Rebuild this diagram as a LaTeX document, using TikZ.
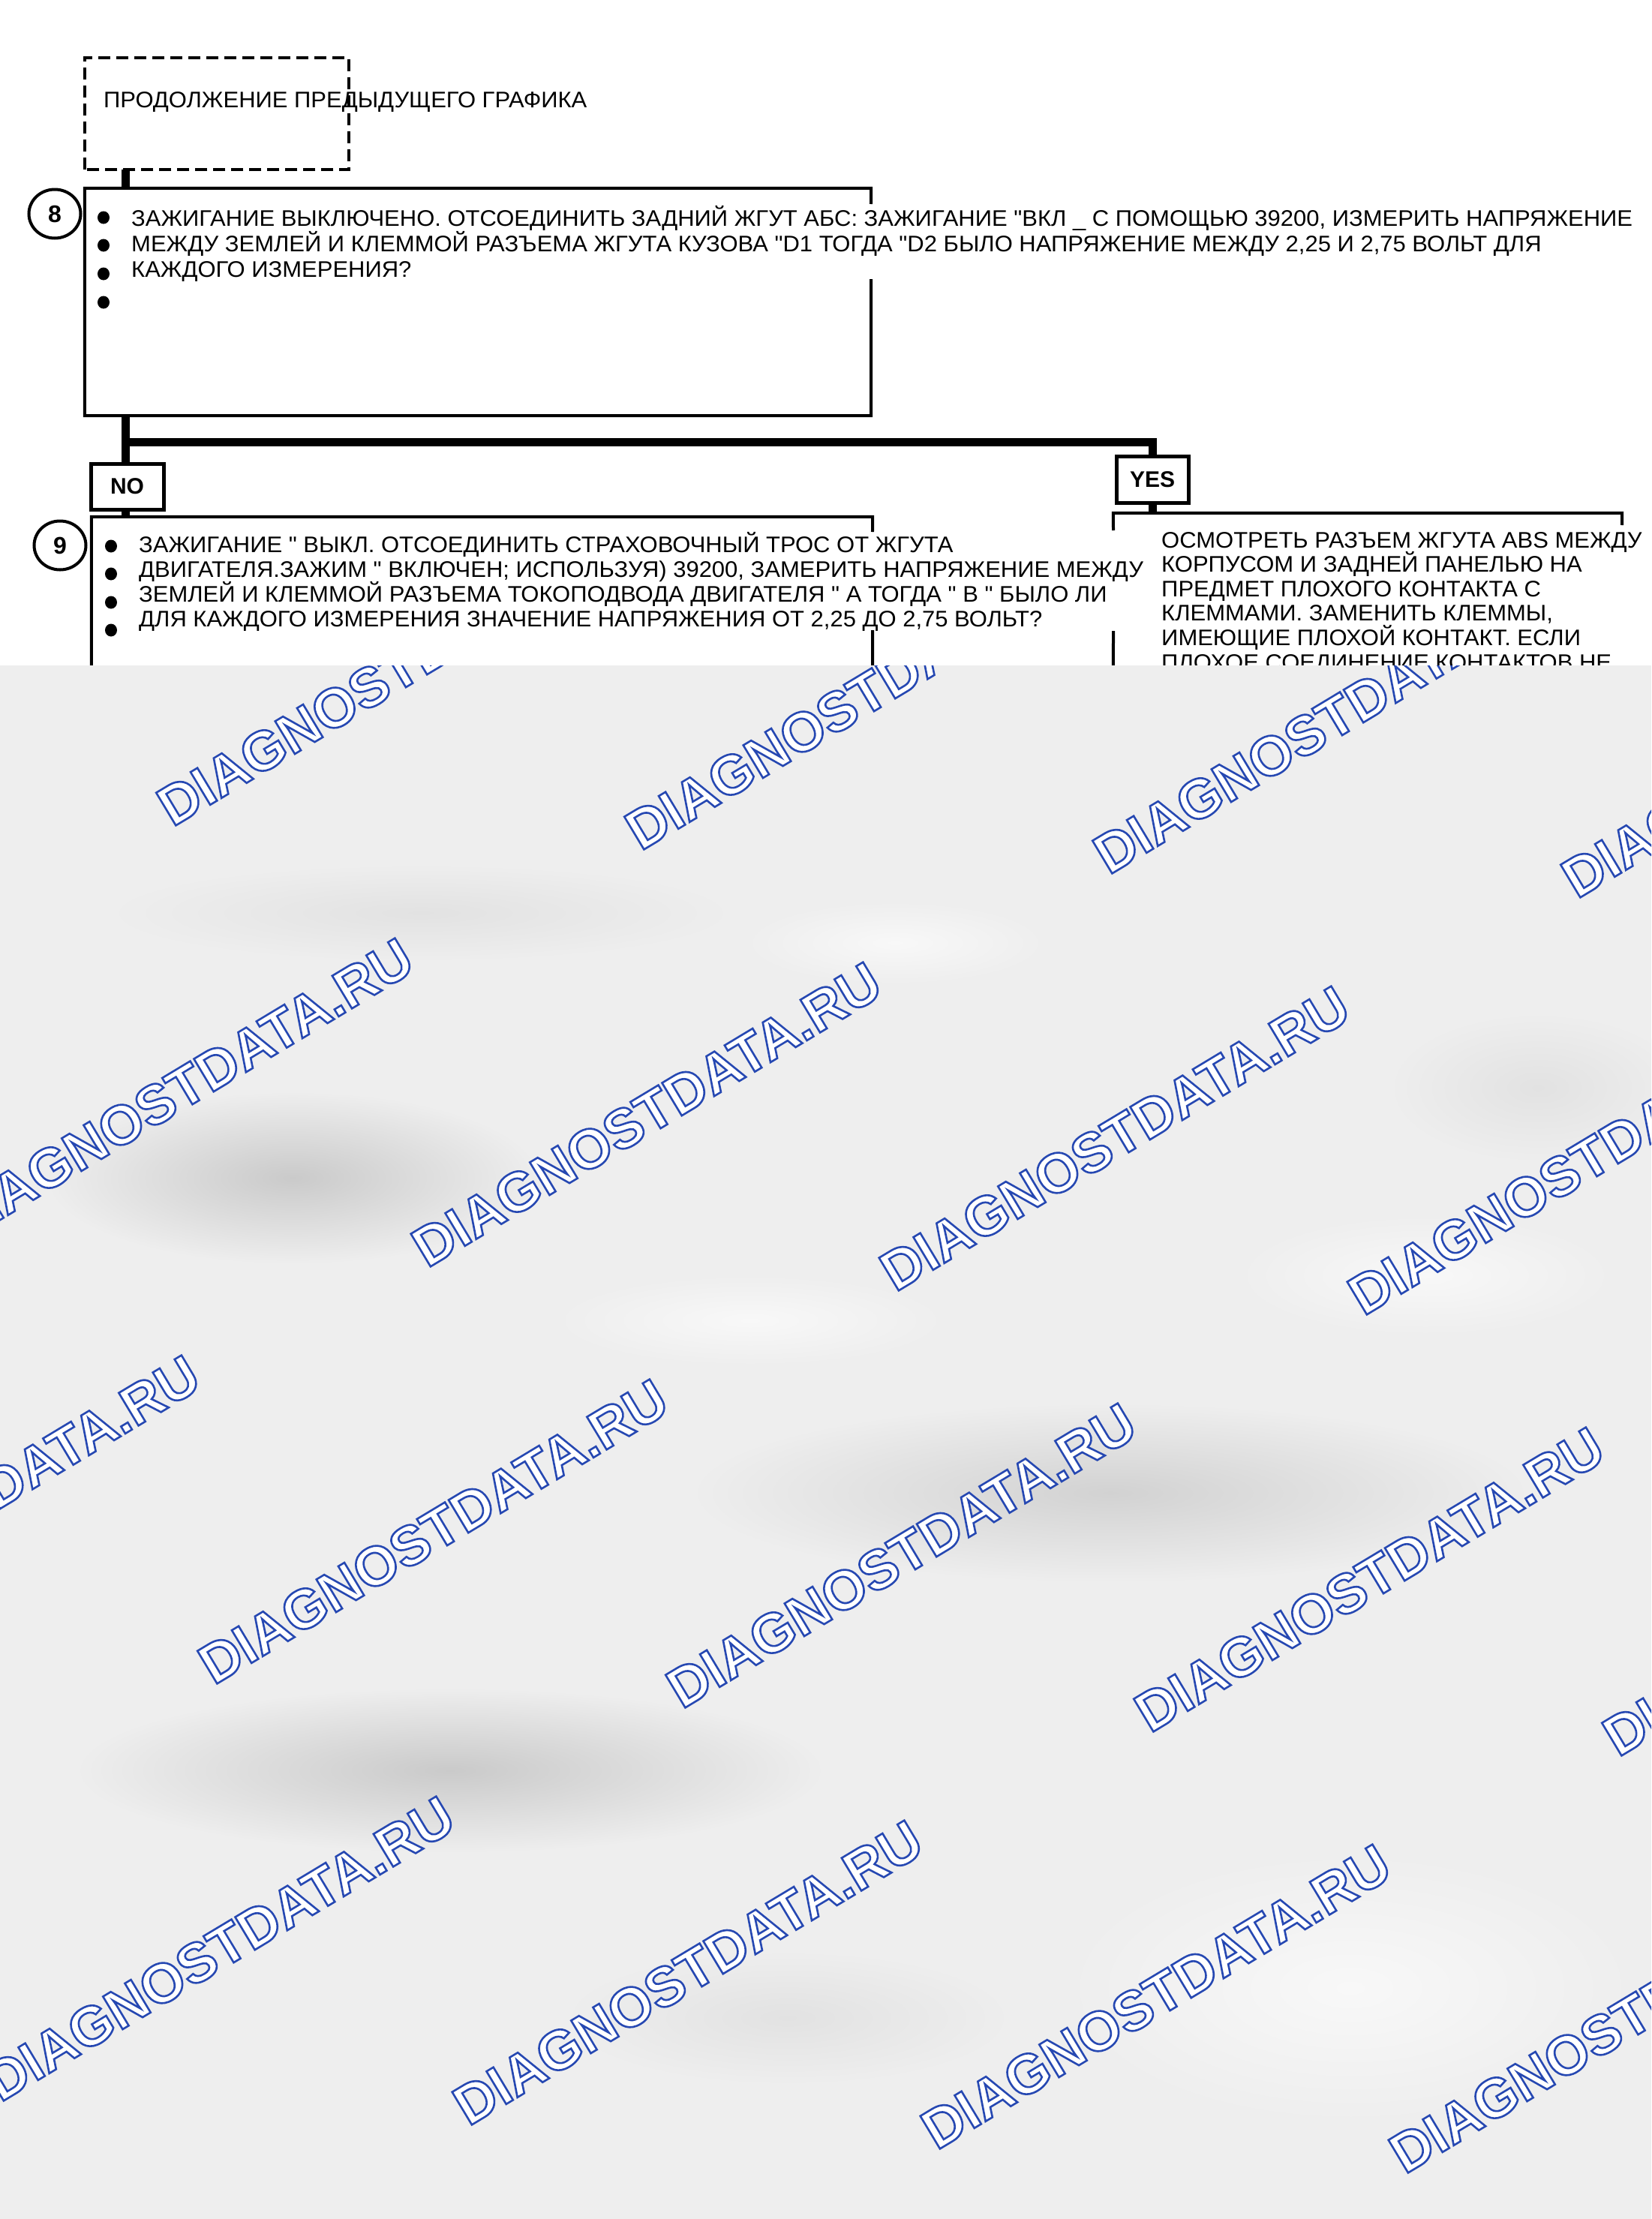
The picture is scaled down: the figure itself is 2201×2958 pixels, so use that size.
\documentclass[tikz,border=0pt]{standalone}
\usepackage{fontspec}
\setmainfont{Liberation Sans}
\newfontfamily\plainsans{Liberation Sans}[FakeStretch=1.033]
\usetikzlibrary{calc,shapes.geometric}
\definecolor{bgray}{RGB}{238,238,238}
\definecolor{blobA}{RGB}{202,202,202}
\definecolor{blobC}{RGB}{210,210,210}
\definecolor{blobB}{RGB}{226,226,226}
\definecolor{blobW}{RGB}{248,248,248}
\definecolor{wmblue}{RGB}{38,72,178}
\tikzset{
  txt/.style={anchor=base west, inner sep=0pt, font=\plainsans\fontsize{30}{34}\selectfont},
  frame/.style={line width=4pt, line cap=rect, line join=miter},
  dashbox/.style={line width=4pt, dash pattern=on 16pt off 8pt},
  conn/.style={line width=11pt, line join=miter},
  lab/.style={draw, line width=5pt, inner sep=0pt, font=\bfseries\fontsize{30}{30}\selectfont},
  num/.style={draw, ellipse, line width=4pt, minimum width=69pt, minimum height=65pt, inner sep=0pt, font=\bfseries\fontsize{32}{32}\selectfont},
  dot/.style={fill, ellipse, minimum width=16pt, minimum height=17pt, inner sep=0pt},
  area/.style={inner sep=0pt, draw=none},
  wmtxt/.style={anchor=base west, rotate=31, inner sep=0pt, text=white, font=\bfseries\fontsize{74}{74}\selectfont}
}
% outlined watermark text: fill white, stroke blue (PDF text render mode 2)
\newcommand{\outlined}[1]{%
  \special{pdf:literal direct 2 Tr 2.6 w 0.149 0.282 0.698 RG}#1\special{pdf:literal direct 0 Tr}}
\begin{document}
\begin{tikzpicture}[x=1pt,y=-1pt]
\useasboundingbox (0,0) rectangle (2201,2958);
\fill[white] (0,0) rectangle (2201,2958);

% ---------- areas ----------
\node[area, minimum width=352pt, minimum height=149pt] (cont) at (289,151.5) {};
\node[area, minimum width=1048pt, minimum height=303pt] (b8) at (637,402.5) {};
\node[area, minimum width=1041pt, minimum height=311pt] (b9) at (642.5,844.5) {};
\node[area, minimum width=678pt, minimum height=316pt] (rb) at (1823,842) {};
\node[lab, minimum width=97pt, minimum height=61pt] (no) at (169.5,648.5) {NO};
\node[lab, minimum width=96pt, minimum height=62pt] (yes) at (1536,639) {YES};

% ---------- frames ----------
\draw[dashbox] (cont.south west) rectangle (cont.north east);
\coordinate (g8u) at (1161,270);
\coordinate (g8l) at (1161,374);
\coordinate (g9u) at (1163,707);
\coordinate (g9l) at (1163,842);
\coordinate (gru) at (1484,705);
\coordinate (grl) at (1484,843);
\coordinate (grr) at (2162,698);
\draw[frame] (g8u) -- (b8.north east) -- (b8.north west) -- (b8.south west) -- (b8.south east) -- (g8l);
\draw[frame] (g9u) -- (b9.north east) -- (b9.north west) -- (b9.south west);
\draw[frame] (g9l) -- (b9.south east);
\draw[frame] (gru) -- (rb.north west) -- (rb.north east) -- (grr);
\draw[frame] (grl) -- (rb.south west);

% ---------- connectors ----------
\coordinate (tk) at (167,0);
\coordinate (brL) at (167,589);
\draw[conn] (cont.south -| tk) -- (b8.north -| tk);
\draw[conn] (b8.south -| tk) -- (no.north -| tk);
\draw[conn] (no.south -| tk) -- (b9.north -| tk);
\draw[conn] (brL) -| (yes.north);
\draw[conn] (yes.south) -- (rb.north -| yes.south);

% ---------- numbers and bullets ----------
\node[num, fill=white] (c8) at (73,285) {8};
\node[num, fill=white] (c9) at (80,727) {9};
\foreach \y [count=\k] in {290,327,365,403} \node[dot] (d8-\k) at (138,\y) {};
\foreach \y [count=\k] in {728,765,803,840} \node[dot] (d9-\k) at (148,\y) {};

% ---------- texts ----------
\node[txt] (tcont) at (138,143) {ПРОДОЛЖЕНИЕ ПРЕДЫДУЩЕГО ГРАФИКА};

\node[txt] (t8a) at (175,301) {ЗАЖИГАНИЕ ВЫКЛЮЧЕНО. ОТСОЕДИНИТЬ ЗАДНИЙ ЖГУТ АБС: ЗАЖИГАНИЕ "ВКЛ \_ С ПОМОЩЬЮ 39200, ИЗМЕРИТЬ НАПРЯЖЕНИЕ};
\node[txt] (t8b) at (175,335) {МЕЖДУ ЗЕМЛЕЙ И КЛЕММОЙ РАЗЪЕМА ЖГУТА КУЗОВА "D1 ТОГДА "D2 БЫЛО НАПРЯЖЕНИЕ МЕЖДУ 2,25 И 2,75 ВОЛЬТ ДЛЯ};
\node[txt] (t8c) at (175,369) {КАЖДОГО ИЗМЕРЕНИЯ?};

\node[txt] (t9a) at (185,736) {ЗАЖИГАНИЕ " ВЫКЛ. ОТСОЕДИНИТЬ СТРАХОВОЧНЫЙ ТРОС ОТ ЖГУТА};
\node[txt] (t9b) at (185,769) {ДВИГАТЕЛЯ.ЗАЖИМ " ВКЛЮЧЕН; ИСПОЛЬЗУЯ) 39200, ЗАМЕРИТЬ НАПРЯЖЕНИЕ МЕЖДУ};
\node[txt] (t9c) at (185,802) {ЗЕМЛЕЙ И КЛЕММОЙ РАЗЪЕМА ТОКОПОДВОДА ДВИГАТЕЛЯ " А ТОГДА " В " БЫЛО ЛИ};
\node[txt] (t9d) at (185,835) {ДЛЯ КАЖДОГО ИЗМЕРЕНИЯ ЗНАЧЕНИЕ НАПРЯЖЕНИЯ ОТ 2,25 ДО 2,75 ВОЛЬТ?};

\node[txt] (tra) at (1548,730) {ОСМОТРЕТЬ РАЗЪЕМ ЖГУТА ABS МЕЖДУ};
\node[txt] (trb) at (1548,762.6) {КОРПУСОМ И ЗАДНЕЙ ПАНЕЛЬЮ НА};
\node[txt] (trc) at (1548,795.2) {ПРЕДМЕТ ПЛОХОГО КОНТАКТА С};
\node[txt] (trd) at (1548,827.8) {КЛЕММАМИ. ЗАМЕНИТЬ КЛЕММЫ,};
\node[txt] (tre) at (1548,860.4) {ИМЕЮЩИЕ ПЛОХОЙ КОНТАКТ. ЕСЛИ};
\node[txt] (trf) at (1548,893) {ПЛОХОЕ СОЕДИНЕНИЕ КОНТАКТОВ НЕ};

% ---------- grey overlay with watermark ----------
\fill[bgray] (0,887) rectangle (2201,2958);
\begin{scope}
\clip (0,887) rectangle (2201,2958);
\shade[inner color=blobB, outer color=bgray] (561,1217) ellipse [x radius=420pt, y radius=65pt];
\shade[inner color=blobW, outer color=bgray] (1193,1257) ellipse [x radius=200pt, y radius=55pt];
\shade[inner color=blobB, outer color=bgray] (2050,1450) ellipse [x radius=200pt, y radius=100pt];
\shade[inner color=blobA, outer color=bgray] (390,1570) ellipse [x radius=330pt, y radius=115pt];
\shade[inner color=blobW, outer color=bgray] (1000,1760) ellipse [x radius=260pt, y radius=60pt];
\shade[inner color=blobW, outer color=bgray] (1900,1700) ellipse [x radius=250pt, y radius=80pt];
\shade[inner color=blobC, outer color=bgray] (1480,1990) ellipse [x radius=560pt, y radius=120pt];
\shade[inner color=blobA, outer color=bgray] (600,2360) ellipse [x radius=500pt, y radius=110pt];
\shade[inner color=blobB, outer color=bgray] (1050,2690) ellipse [x radius=300pt, y radius=90pt];
\shade[inner color=blobW, outer color=bgray] (1800,2650) ellipse [x radius=380pt, y radius=180pt];
\foreach \j in {0,...,3}{%
  \foreach \i in {-3,...,3}{%
    \pgfmathsetmacro\wx{230+624*\i+339.5*\j}%
    \pgfmathsetmacro\wy{1103+32*\i+588*\j}%
    \node[wmtxt] (wm\i x\j) at (\wx,\wy) {\outlined{DIAGNOSTDATA.RU}};
  }%
}
\end{scope}
\end{tikzpicture}
\end{document}
